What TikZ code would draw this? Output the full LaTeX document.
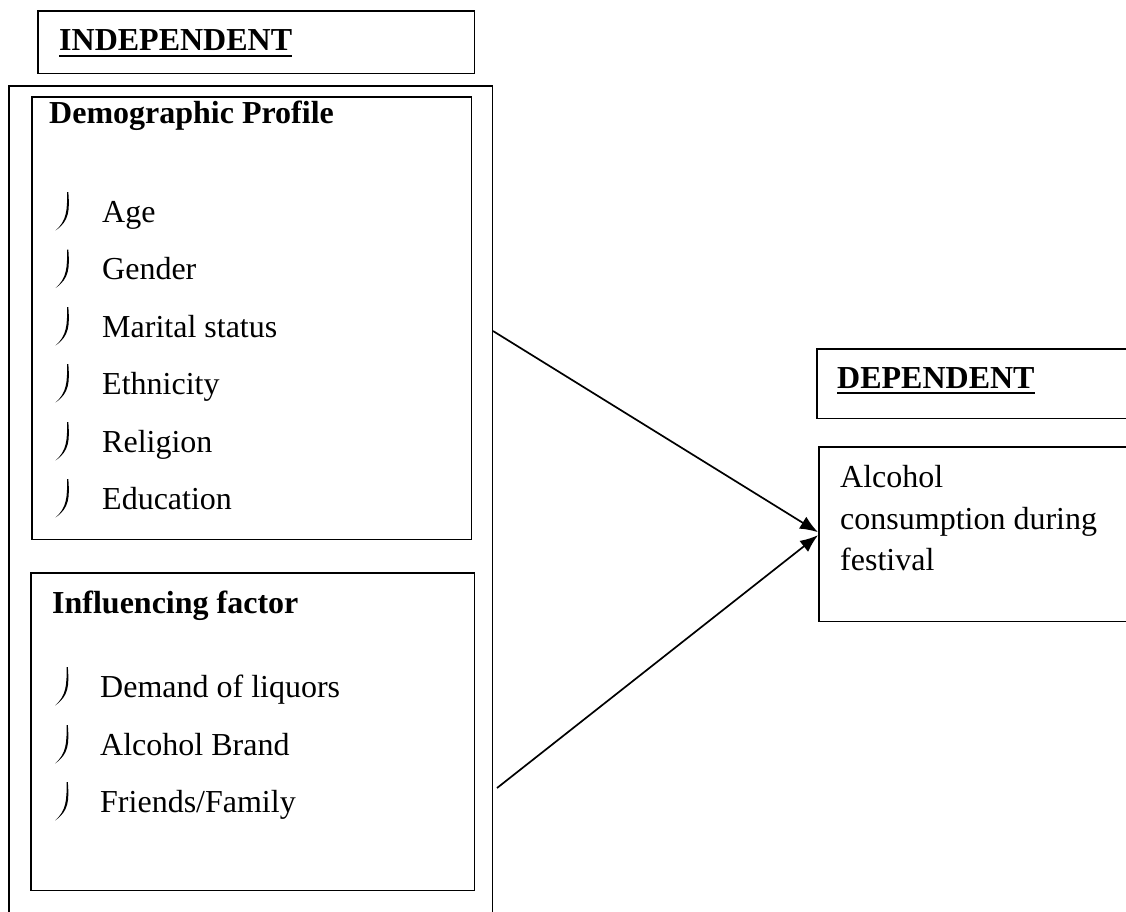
\documentclass[tikz,border=0pt]{standalone}
\usepackage{fontspec}
\setmainfont{Liberation Serif}
\usetikzlibrary{arrows.meta}
\begin{document}
\begin{tikzpicture}[x=1pt,y=-1pt,
  box/.style={draw=none, inner sep=0pt, anchor=north west},
  edge/.style={line width=1.8pt},
  txt/.style={anchor=base west, inner sep=0pt, font=\fontsize{32}{38}\selectfont},
  head/.style={anchor=base west, inner sep=0pt, font=\fontsize{32}{38}\selectfont\bfseries},
  uline/.style={line width=2.6pt},
  arr/.style={line width=1.7pt, -{Latex[length=18pt,width=14pt]}},
  jbul/.pic={\fill (0.6,-30) -- (1.8,-30) .. controls (3.2,-12) and (3,-1) .. (-11,8.5) .. controls (0.2,-1) and (0.8,-12) .. cycle;}
]
\useasboundingbox (0,0) rectangle (1126,911);

% boxes
\node[box, minimum width=436pt, minimum height=62pt] (indep) at (38,11) {};
\draw[edge] (indep.north west) rectangle (indep.south east);
\node[box, minimum width=483pt, minimum height=830pt] (outer) at (9,86) {};
\draw[edge] (outer.south west) -- (outer.north west) -- (outer.north east) -- (outer.south east);
\node[box, minimum width=439pt, minimum height=442pt] (demo) at (32,97) {};
\draw[edge] (demo.north west) rectangle (demo.south east);
\node[box, minimum width=443pt, minimum height=317pt] (infl) at (31,573) {};
\draw[edge] (infl.north west) rectangle (infl.south east);
\node[box, minimum width=312pt, minimum height=69pt] (dep) at (817,349) {};
\draw[edge] (dep.north east) -- (dep.north west) -- (dep.south west) -- (dep.south east);
\node[box, minimum width=310pt, minimum height=174pt] (alc) at (819,447) {};
\draw[edge] (alc.north east) -- (alc.north west) -- (alc.south west) -- (alc.south east);

% headings
\node[head] (tind) at (59,50) {INDEPENDENT};
\draw[uline] ([yshift=-6pt]tind.base west) -- ([yshift=-6pt]tind.base east);
\node[head] (tdemo) at (49,123) {Demographic Profile};
\node[head] (tinfl) at (52,613) {Influencing factor};
\node[head] (tdep) at (837,388) {DEPENDENT};
\draw[uline] ([yshift=-5pt]tdep.base west) -- ([yshift=-5pt]tdep.base east);

% demographic items
\node[txt] (d1) at (102,222) {Age};
\node[txt] (d2) at (102,279.5) {Gender};
\node[txt] (d3) at (102,337) {Marital status};
\node[txt] (d4) at (102,394) {Ethnicity};
\node[txt] (d5) at (102,452) {Religion};
\node[txt] (d6) at (102,509) {Education};
\foreach \yy in {222,279.5,337,394,452,509} \pic at (66.5,\yy) {jbul};

% influencing items
\node[txt] (f1) at (100,697) {Demand of liquors};
\node[txt] (f2) at (100,755) {Alcohol Brand};
\node[txt] (f3) at (100,812) {Friends/Family};
\foreach \yy in {697,755,812} \pic at (66,\yy) {jbul};

% dependent text
\node[txt] (c1) at (840,487) {Alcohol};
\node[txt] (c2) at (840,529) {consumption during};
\node[txt] (c3) at (840,570) {festival};

% arrows
\coordinate (s1) at (493,331);
\coordinate (s2) at (497,788);
\draw[arr] (s1) -- ([yshift=2pt,xshift=-1pt]alc.west);
\draw[arr] (s2) -- ([yshift=-1pt,xshift=-1pt]alc.west);
\end{tikzpicture}
\end{document}
